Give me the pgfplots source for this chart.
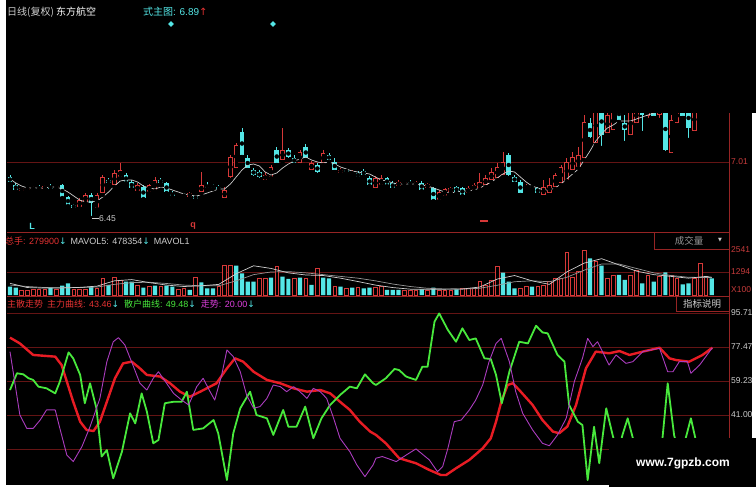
\documentclass[border=0pt]{standalone}
\usepackage{pgfplots}
\pgfplotsset{compat=1.18}
\usepackage{pgfplotstable}
\usepackage{fontspec}
\setmainfont{Liberation Sans}
\newfontfamily\cjk{Noto Sans CJK SC}
\newfontfamily\sym{DejaVu Sans}
\usetikzlibrary{shapes.geometric}

\definecolor{upred}{RGB}{214,56,56}
\definecolor{dncyan}{RGB}{84,230,230}
\definecolor{gridred}{RGB}{100,20,20}
\definecolor{axred}{RGB}{150,36,36}
\definecolor{lblred}{RGB}{200,60,60}
\definecolor{txtred}{RGB}{228,50,50}
\definecolor{mainred}{RGB}{232,28,36}
\definecolor{scgreen}{RGB}{72,232,60}
\definecolor{trpurple}{RGB}{170,60,190}
\definecolor{trmag}{RGB}{224,64,224}
\definecolor{lgray}{RGB}{205,205,205}
\definecolor{mgray}{RGB}{150,150,150}

% daily candles, price in yuan: i open high low close
\pgfplotstableread{
i o h l c
0 6.86 6.88 6.79 6.81
1 6.78 6.80 6.72 6.73
5 6.76 6.78 6.73 6.74
7 6.76 6.79 6.73 6.75
9 6.78 6.79 6.65 6.66
10 6.66 6.67 6.57 6.58
11 6.58 6.59 6.54 6.55
14 6.68 6.70 6.45 6.60
17 6.83 6.85 6.78 6.80
20 6.88 6.90 6.80 6.81
21 6.81 6.83 6.74 6.75
23 6.76 6.78 6.64 6.65
26 6.83 6.85 6.78 6.80
27 6.80 6.81 6.70 6.71
28 6.69 6.72 6.66 6.68
30 6.68 6.70 6.66 6.67
32 6.67 6.68 6.63 6.64
34 6.77 6.81 6.73 6.76
35 6.77 6.79 6.74 6.76
36 6.76 6.78 6.72 6.74
40 7.31 7.35 7.06 7.08
41 7.05 7.08 6.93 6.95
42 6.93 6.95 6.85 6.88
43 6.91 6.93 6.83 6.86
46 7.13 7.16 6.98 7.00
48 7.13 7.15 7.03 7.06
49 7.05 7.08 6.98 7.00
51 7.16 7.19 7.03 7.05
53 6.98 7.00 6.88 6.91
55 7.08 7.10 7.01 7.03
56 7.01 7.05 6.91 6.93
58 6.93 6.94 6.89 6.91
60 6.90 6.92 6.85 6.86
61 6.92 6.94 6.86 6.88
62 6.85 6.87 6.77 6.78
65 6.85 6.86 6.77 6.78
66 6.80 6.82 6.74 6.75
69 6.81 6.83 6.77 6.78
71 6.80 6.82 6.72 6.73
73 6.75 6.76 6.62 6.63
77 6.76 6.77 6.70 6.71
78 6.75 6.76 6.67 6.68
86 7.08 7.10 6.85 6.88
87 6.86 6.88 6.79 6.81
88 6.81 6.83 6.68 6.70
90 6.77 6.78 6.73 6.75
91 6.75 6.76 6.69 6.70
100 7.40 7.45 7.23 7.26
102 7.55 7.58 7.15 7.28
105 7.55 7.58 7.41 7.43
106 7.40 7.48 7.20 7.33
109 7.58 7.63 7.30 7.48
111 7.58 7.63 7.45 7.47
113 7.55 7.63 7.10 7.13
116 7.58 7.63 7.45 7.47
117 7.55 7.63 7.23 7.35
}\dn
\pgfplotstableread{
i o h l c
2 6.72 6.76 6.71 6.75
3 6.73 6.76 6.72 6.75
4 6.73 6.77 6.72 6.76
6 6.74 6.78 6.73 6.77
8 6.75 6.78 6.74 6.77
12 6.56 6.65 6.55 6.63
13 6.61 6.70 6.60 6.68
15 6.55 6.70 6.54 6.68
16 6.70 6.88 6.68 6.86
18 6.78 6.93 6.76 6.90
19 6.86 7.00 6.85 6.93
22 6.72 6.80 6.71 6.78
24 6.71 6.79 6.70 6.78
25 6.73 6.86 6.72 6.83
29 6.67 6.70 6.66 6.69
31 6.66 6.71 6.65 6.70
33 6.71 6.91 6.69 6.78
37 6.65 6.76 6.63 6.73
38 6.86 7.08 6.83 7.06
39 6.95 7.20 6.93 7.18
44 6.83 6.91 6.81 6.88
45 6.86 6.98 6.85 6.96
47 7.03 7.35 7.01 7.13
50 7.00 7.13 6.98 7.11
52 6.93 7.02 6.91 7.00
54 7.00 7.13 6.98 7.10
57 6.90 6.95 6.88 6.93
59 6.88 6.93 6.87 6.91
63 6.75 6.87 6.73 6.85
64 6.78 6.88 6.77 6.85
67 6.77 6.83 6.76 6.81
68 6.79 6.82 6.77 6.81
70 6.77 6.82 6.76 6.81
72 6.75 6.80 6.74 6.79
74 6.63 6.73 6.62 6.71
75 6.67 6.75 6.66 6.74
76 6.71 6.76 6.70 6.75
79 6.70 6.77 6.69 6.75
80 6.73 6.80 6.72 6.78
81 6.75 6.90 6.74 6.81
82 6.78 6.88 6.76 6.85
83 6.83 6.95 6.81 6.91
84 6.85 7.00 6.83 6.96
85 6.88 7.11 6.86 7.01
89 6.74 6.79 6.72 6.77
92 6.68 6.83 6.66 6.76
93 6.70 6.85 6.68 6.78
94 6.76 6.90 6.74 6.88
95 6.80 6.98 6.78 6.96
96 6.83 7.05 6.82 7.01
97 6.93 7.11 6.91 7.06
98 6.96 7.16 6.95 7.08
99 7.05 7.48 7.03 7.41
101 7.20 7.58 7.18 7.55
103 7.30 7.53 7.28 7.48
104 7.33 7.55 7.31 7.51
107 7.28 7.55 7.26 7.51
108 7.40 7.58 7.38 7.55
110 7.47 7.63 7.43 7.58
112 7.48 7.63 7.43 7.58
114 7.10 7.48 7.08 7.43
115 7.40 7.58 7.38 7.55
118 7.32 7.58 7.30 7.55
}\up
% price average line
\pgfplotstableread{
i p
0 6.84
1 6.80
2 6.77
3 6.75
4 6.75
5 6.75
6 6.75
7 6.76
8 6.76
9 6.74
10 6.71
11 6.67
12 6.63
13 6.61
14 6.61
15 6.62
16 6.66
17 6.71
18 6.77
19 6.82
20 6.83
21 6.83
22 6.81
23 6.77
24 6.75
25 6.74
26 6.76
27 6.75
28 6.73
29 6.71
30 6.69
31 6.68
32 6.67
33 6.68
34 6.70
35 6.72
36 6.74
37 6.74
38 6.79
39 6.86
40 6.93
41 6.98
42 6.99
43 6.97
44 6.91
45 6.88
46 6.90
47 6.95
48 6.99
49 7.02
50 7.04
51 7.06
52 7.03
53 7.01
54 7.00
55 7.01
56 6.99
57 6.96
58 6.94
59 6.92
60 6.91
61 6.90
62 6.89
63 6.86
64 6.83
65 6.82
66 6.80
67 6.79
68 6.79
69 6.79
70 6.79
71 6.78
72 6.77
73 6.75
74 6.73
75 6.71
76 6.70
77 6.71
78 6.72
79 6.72
80 6.73
81 6.75
82 6.78
83 6.81
84 6.85
85 6.89
86 6.92
87 6.91
88 6.86
89 6.81
90 6.77
91 6.75
92 6.73
93 6.73
94 6.75
95 6.79
96 6.84
97 6.89
98 6.94
99 7.03
100 7.12
101 7.22
102 7.29
103 7.35
104 7.38
105 7.42
106 7.42
107 7.42
108 7.44
109 7.46
110 7.48
111 7.50
112 7.52
}\ma
% volume, x100 shares
\pgfplotstableread{
i v
0 470
1 415
7 415
9 527
10 660
14 470
17 565
20 753
21 753
23 415
25 527
27 527
28 470
31 283
33 716
34 377
35 377
39 1657
40 1224
41 753
42 753
45 980
47 1036
48 904
50 980
52 565
54 980
55 942
57 470
59 415
61 377
62 415
65 283
66 283
67 283
71 320
73 415
77 320
85 1262
86 753
87 377
90 470
100 2072
102 1657
105 1130
106 848
109 660
111 753
113 1281
116 603
117 660
121 942
}\vdn
\pgfplotstableread{
i v
2 283
3 283
4 320
5 320
6 320
8 340
11 340
12 340
13 340
15 377
16 942
18 980
19 848
22 565
24 470
26 470
29 340
30 377
32 980
36 470
37 1657
38 1657
43 942
44 942
46 1601
49 942
51 942
53 1507
56 470
58 377
60 415
63 415
64 470
68 283
69 283
70 283
72 283
74 283
75 283
76 283
78 377
79 377
80 377
81 753
82 565
83 848
84 1601
88 377
89 470
91 470
92 565
93 753
94 942
95 942
96 2411
97 980
98 1356
99 2543
101 1883
103 942
104 1130
107 1130
108 1413
110 1130
112 1036
114 1130
115 942
118 942
119 1789
120 1036
}\vup

\pgfplotsset{panel/.style={scale only axis, width=722pt, xmin=-0.517, xmax=123.97,
  hide axis, anchor=south west, clip=true}}

\begin{document}
\begin{tikzpicture}[x=1pt,y=-1pt]
\fill[black] (0,0) rectangle (756,487);

% grid and frame lines
\draw[gridred, line width=0.6pt] (7,162) -- (729,162);
\draw[gridred, line width=0.6pt] (7,272) -- (729,272);
\foreach \yy in {313,347,381,415,449}
  \draw[gridred, line width=0.6pt] (7,\yy) -- (729,\yy);
\draw[axred, line width=0.7pt] (7,232.5) -- (729,232.5);
\draw[axred, line width=0.7pt] (7,296) -- (729,296);
\draw[axred, line width=0.8pt] (729,113) -- (729,487);

% candles
\begin{axis}[panel, at={(7pt,-232pt)}, height=119pt, ymin=6.31, ymax=7.50]
\addplot[forget plot, only marks, mark=none, error bars/.cd, y dir=plus, y explicit,
  error mark=none, error bar style={upred, line width=0.9pt}]
  table[x=i, y=l, y error expr={\thisrow{h}-\thisrow{l}}] {\up};
\addplot[forget plot, only marks, mark=none, error bars/.cd, y dir=plus, y explicit,
  error mark=none, error bar style={dncyan, line width=0.8pt}]
  table[x=i, y=l, y error expr={\thisrow{h}-\thisrow{l}}] {\dn};
\addplot[forget plot, only marks, mark=none, error bars/.cd, y dir=both, y explicit,
  error mark=none, error bar style={upred, line width=4.6pt}]
  table[x=i, y expr={(\thisrow{o}+\thisrow{c})/2}, y error expr={abs(\thisrow{c}-\thisrow{o})/2}] {\up};
\addplot[forget plot, only marks, mark=none, error bars/.cd, y dir=both, y explicit,
  error mark=none, error bar style={black, line width=3.0pt}]
  table[x=i, y expr={(\thisrow{o}+\thisrow{c})/2}, y error expr={max(abs(\thisrow{c}-\thisrow{o})/2-0.008,0.0005)}] {\up};
\addplot[forget plot, only marks, mark=none, error bars/.cd, y dir=both, y explicit,
  error mark=none, error bar style={dncyan, line width=4.6pt}]
  table[x=i, y expr={(\thisrow{o}+\thisrow{c})/2}, y error expr={abs(\thisrow{c}-\thisrow{o})/2}] {\dn};
\addplot[lgray, line width=0.7pt] table[x=i, y=p] {\ma};
\end{axis}

% volume
\begin{axis}[panel, at={(7pt,-295pt)}, height=62pt, ymin=0, ymax=3500]
\addplot[ybar, bar width=4.2pt, bar shift=0pt, fill=dncyan, draw=none] table[x=i, y=v] {\vdn};
\addplot[ybar, bar width=3.6pt, bar shift=0pt, fill=black, draw=upred, line width=0.8pt] table[x=i, y=v] {\vup};
\addplot[mgray, line width=0.7pt] coordinates {(0,560) (3,480) (6,420) (9,410) (12,420) (15,450) (18,600) (21,700) (24,720) (27,650) (30,560) (33,520) (36,520) (39,800) (42,1150) (45,1300) (48,1320) (51,1250) (54,1150) (57,1050) (60,950) (63,800) (66,620) (69,480) (72,380) (75,340) (78,330) (81,380) (84,550) (87,750) (90,800) (93,750) (96,1000) (99,1400) (102,1750) (105,1750) (108,1500) (111,1250) (114,1100) (117,1000) (120,990) (121,980)};
\addplot[lgray, line width=0.7pt] coordinates {(0,660) (3,420) (6,390) (9,400) (12,430) (15,500) (18,800) (21,870) (24,700) (27,560) (30,480) (33,520) (36,600) (39,1200) (42,1650) (45,1500) (48,1250) (51,1130) (54,1100) (57,950) (60,760) (63,560) (66,420) (69,330) (72,320) (75,330) (78,340) (81,450) (84,900) (87,1100) (90,800) (93,600) (96,1300) (99,1800) (102,2050) (105,1700) (108,1350) (111,1150) (114,1050) (117,950) (120,1050) (121,1000)};
\end{axis}

% main force / retail indicator
\begin{axis}[panel, at={(7pt,-485pt)}, height=188pt, ymin=3.43, ymax=104.3]
\addplot[mainred, line width=2.4pt, line join=round] coordinates {
(0.0,82.5) (1.7,79.4) (4.0,73.2) (5.7,72.8) (7.8,72.3) (8.9,67.8) (9.8,58.9) (10.9,48.1)
(12.1,37.4) (13.2,33.0) (14.4,32.4) (15.5,37.4) (16.7,48.1) (18.1,60.7) (19.5,68.7) (21.0,69.6)
(22.4,66.0) (23.6,62.5) (25.9,61.6) (27.6,58.0) (29.3,53.5) (31.0,50.8) (32.8,53.5) (35.6,58.0)
(37.4,66.0) (38.8,71.4) (40.2,69.6) (42.0,64.2) (44.3,59.8) (46.6,58.0) (48.9,55.3) (51.2,53.5)
(53.5,54.4) (55.2,52.6) (56.9,48.1) (58.6,43.7) (60.3,37.4) (62.1,32.1)
(63.1,30.3) (64.8,25.8) (67.1,17.8) (70.0,15.1) (72.3,11.5) (74.3,8.8) (75.2,8.8) (76.9,12.4)
(79.2,16.9) (81.5,23.1) (82.9,28.5) (83.8,37.4) (84.7,48.1) (85.8,57.1) (86.7,58.0) (87.8,54.4)
(90.1,46.4) (91.8,38.3) (93.6,32.1) (94.7,31.2) (96.1,34.8) (97.6,46.4) (99.3,66.0) (101.0,75.0)
(103.3,74.1) (105.1,75.3) (106.8,73.2) (109.1,75.0) (112.0,77.1) (113.7,71.4) (114.8,70.5)
(117.1,69.6) (119.4,73.2) (121.1,77.1)};
\addplot[scgreen, line width=1.8pt, line join=round] coordinates {
(0.0,54.4) (1.2,63.4) (2.3,62.8) (3.2,60.7) (4.0,59.8) (4.9,56.2) (6.3,55.3) (7.8,52.6)
(8.6,58.9) (10.1,74.6) (10.9,71.4) (12.1,62.5) (12.9,47.3) (13.8,58.0) (14.9,44.6) (15.8,18.7)
(16.7,22.2) (17.8,7.0) (19.3,21.3) (20.7,41.9) (21.6,36.5) (22.7,52.6) (23.6,42.8) (24.7,25.8)
(25.6,27.6) (26.7,47.3) (28.2,48.1) (29.6,48.1) (30.5,53.5) (31.6,33.0) (33.3,33.8) (35.1,38.3)
(35.9,31.2) (37.4,6.1) (38.5,31.2) (39.7,44.6) (41.4,53.5) (42.5,41.0) (44.3,39.2) (45.4,30.3)
(47.1,43.7) (48.0,34.7) (49.4,34.7) (50.9,45.5) (52.3,28.5) (53.7,39.2) (55.2,46.4) (56.9,51.7)
(58.6,56.2) (59.8,55.3) (61.2,62.8) (62.6,58.0)
(63.1,57.1) (64.8,60.7) (66.3,65.7) (67.1,65.1) (68.3,61.6) (70.0,59.8) (71.1,66.9) (72.0,66.9)
(73.2,91.1) (74.0,95.5) (75.5,86.6) (76.9,80.3) (78.0,87.5) (79.2,81.2) (80.3,82.1) (81.8,71.4)
(82.9,71.0) (83.8,62.5) (84.8,47.3) (86.1,64.2) (87.8,80.3) (89.3,79.4) (90.7,88.9) (91.8,85.3)
(92.7,84.8) (94.4,73.2) (95.6,69.6) (96.4,46.4) (97.9,37.4) (98.7,35.6) (99.6,6.1) (100.7,34.7)
(101.6,15.1) (102.8,44.6) (103.9,30.3) (104.8,19.5) (105.6,30.3) (106.5,39.2) (107.4,28.5)
(109.1,12.4) (111.4,21.3) (112.5,28.5) (113.4,58.0) (114.5,30.3) (115.7,16.0) (116.5,28.5)
(117.4,39.2) (118.3,26.7) (120.0,16.0) (121.1,21.3)};
\addplot[trpurple, line width=0.9pt, line join=round] coordinates {
(0.0,75.0) (0.9,57.1) (1.7,41.0) (2.9,33.8) (4.0,33.8) (5.2,38.3) (6.3,43.7) (7.8,43.7)
(8.6,33.8) (9.8,19.5) (10.9,16.0) (12.4,24.0) (13.8,34.7) (15.5,49.9) (16.7,69.6) (17.8,80.3)
(18.7,82.5) (19.8,78.6) (21.3,66.9) (22.4,58.0) (23.6,54.4) (24.7,60.7) (25.6,64.2) (27.0,58.0)
(28.2,52.6) (29.6,49.0) (30.8,46.4) (32.2,56.2) (33.3,60.7) (34.5,53.5) (35.3,49.0) (36.5,62.5)
(37.4,75.9) (38.5,72.3) (39.7,64.2) (40.8,51.7) (42.0,44.6) (43.1,45.5) (44.3,49.9) (45.4,57.1)
(46.6,56.2) (47.7,53.5) (48.9,56.2) (50.0,53.5) (51.2,49.9) (52.3,55.3) (53.5,53.5) (54.6,49.9)
(55.8,39.2) (56.9,28.5) (58.6,21.3) (59.8,14.2) (61.2,7.9) (62.6,14.2)
(63.1,17.8) (64.2,18.7) (66.6,16.0) (68.3,19.5) (70.0,22.8) (72.3,16.9) (73.7,10.6) (74.6,13.3)
(75.5,23.1) (76.6,37.4) (77.8,38.3) (79.2,43.7) (80.3,49.0) (81.5,57.1) (82.6,69.6) (83.8,79.4)
(84.7,82.1) (86.1,69.6) (87.2,53.5) (88.4,41.9) (90.1,33.0) (91.8,25.8) (93.0,24.5) (94.4,30.3)
(95.9,39.2) (97.3,58.9) (98.7,71.4) (99.6,82.1) (100.5,77.7) (101.3,80.3) (103.3,67.8)
(104.5,73.2) (106.2,68.7) (107.4,69.6) (109.1,75.0) (112.0,76.8) (113.4,64.2) (114.3,64.2)
(115.4,69.6) (116.8,69.6) (117.4,63.4) (118.9,67.8) (121.1,77.1)};
\end{axis}

% header of main chart
\node[anchor=west, inner sep=0, text=lgray] at (7,12) {\cjk\fontsize{10}{12}\selectfont 日线(复权) \textcolor{white}{东方航空}};
\node[anchor=west, inner sep=0, text=dncyan] at (143,12) {\fontsize{10}{12}\selectfont{\cjk 式主图}: 6.89\textcolor{txtred}{\sym ↑}};
\node[diamond, fill=dncyan, inner sep=0, minimum size=6pt] at (171,24) {};
\node[diamond, fill=dncyan, inner sep=0, minimum size=6pt] at (273,24) {};

% candle panel marks
\draw[lgray, line width=0.5pt] (92,218) -- (99,218);
\node[anchor=west, inner sep=0, text=lgray] at (99,218.5) {\fontsize{8.5}{10}\selectfont 6.45};
\node[anchor=center, inner sep=0, text=dncyan] at (32,226) {\fontsize{9}{10}\selectfont\bfseries L};
\node[anchor=center, inner sep=0, text=upred] at (193,226) {\fontsize{9}{10}\selectfont\bfseries q};
\draw[upred, line width=1.5pt] (480,221) -- (488,221);
\node[anchor=west, inner sep=0, text=lblred] at (731,162) {\fontsize{8.5}{10}\selectfont 7.01};

% volume header
\node[anchor=west, inner sep=0] at (5,241) {\fontsize{9}{11}\selectfont
  \textcolor{txtred}{{\cjk 总手}: 279900}\textcolor{dncyan}{\sym ↓}\hspace{4pt}%
  \textcolor{lgray}{MAVOL5: 478354}\textcolor{dncyan}{\sym ↓}\hspace{4pt}%
  \textcolor{lgray}{MAVOL1}};
\draw[axred, line width=0.6pt] (654,233) -- (654,249) -- (729,249);
\node[inner sep=0, text=mgray] at (689,241) {\cjk\fontsize{9.5}{11}\selectfont 成交量};
\node[inner sep=0, text=lgray] at (720,240.5) {\sym\fontsize{5}{6}\selectfont ▼};
\node[anchor=west, inner sep=0, text=lblred] at (731,250) {\fontsize{8.5}{10}\selectfont 2541};
\node[anchor=west, inner sep=0, text=lblred] at (731,272) {\fontsize{8.5}{10}\selectfont 1294};
\node[anchor=west, inner sep=0, text=lblred] at (731,290) {\fontsize{8.5}{10}\selectfont X100};

% indicator header
\node[anchor=west, inner sep=0] at (7,304) {\fontsize{9}{11}\selectfont
  \textcolor{txtred}{{\cjk 主散走势}\hspace{4pt}{\cjk 主力曲线}: 43.46}\textcolor{dncyan}{\sym ↓}\hspace{5pt}%
  \textcolor{scgreen}{{\cjk 散户曲线}: 49.48}\textcolor{dncyan}{\sym ↓}\hspace{5pt}%
  \textcolor{trmag}{{\cjk 走势}: 20.00}\textcolor{dncyan}{\sym ↓}};
\draw[axred, line width=0.6pt] (676,296) -- (676,311) -- (729,311);
\node[inner sep=0, text=lgray] at (702,303.5) {\cjk\fontsize{9.5}{11}\selectfont 指标说明};
\foreach \yy/\lab in {313/95.71,347/77.47,381/59.23,415/41.00}
  \node[anchor=west, inner sep=0, text=lgray] at (731,\yy) {\fontsize{8.5}{10}\selectfont \lab};

% white borders of the screenshot
\fill[white] (0,0) rectangle (6,487);
\fill[white] (752,113) rectangle (756,438);
\fill[white] (6,485) rectangle (609,487);

% watermark
\fill[black] (609,438) rectangle (756,487);
\node[inner sep=0, text=white] at (683,463) {\fontsize{12}{14}\selectfont\bfseries www.7gpzb.com};
\end{tikzpicture}
\end{document}
